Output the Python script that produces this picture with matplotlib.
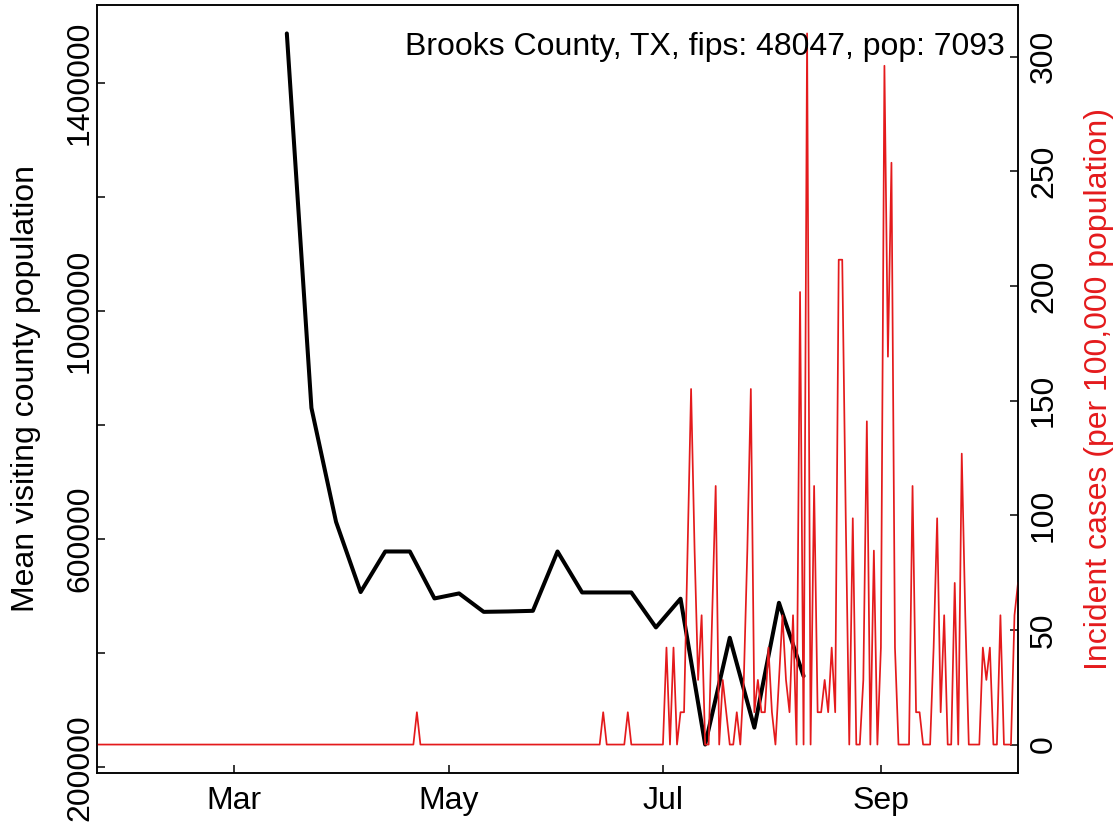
import matplotlib
matplotlib.use('Agg')
import matplotlib.pyplot as plt
import numpy as np

plt.rcParams['font.family'] = ['Liberation Sans', 'DejaVu Sans']

# ---------------- data ----------------
county_label = "Brooks County, TX, fips: 48047, pop: 7093"
population = 7093

black_dates = ['2020-03-16', '2020-03-23', '2020-03-30', '2020-04-06', '2020-04-13',
               '2020-04-20', '2020-04-27', '2020-05-04', '2020-05-11', '2020-05-18',
               '2020-05-25', '2020-06-01', '2020-06-08', '2020-06-15', '2020-06-22',
               '2020-06-29', '2020-07-06', '2020-07-13', '2020-07-20', '2020-07-27',
               '2020-08-03', '2020-08-10']
black_values = [1486400, 830000, 630400, 507300, 578400,
                578400, 496100, 504900, 472600, 473300,
                474400, 578400, 506600, 506600, 506600,
                445300, 495600, 240000, 427200, 269600,
                488500, 360000]

red_first_day = '2020-01-22'
red_last_day = '2020-10-10'
early_case_dates = ['2020-04-22', '2020-06-14', '2020-06-21']
early_case_counts = [1, 1, 1]
late_start = '2020-07-01'
cases_jul = [0, 3, 0, 3, 0, 1, 1, 6, 11, 6, 2, 4, 0, 0, 4, 8, 0, 2, 1, 0,
             0, 1, 0, 2, 6, 11, 1, 2, 1, 1, 3]
cases_aug = [1, 0, 2, 4, 2, 1, 4, 0, 14, 0, 22, 0, 8, 1, 1, 2, 1, 3, 1, 15,
             15, 7, 0, 7, 0, 0, 2, 10, 0, 6, 0]
cases_sep = [3, 21, 12, 18, 3, 0, 0, 0, 0, 8, 1, 1, 0, 0, 0, 3, 7, 1, 4, 0,
             0, 5, 0, 9, 4, 0, 0, 0, 0, 3]
cases_oct = [2, 3, 0, 0, 4, 0, 0, 0, 4, 5]

x_tick_dates = ['2020-03-01', '2020-05-01', '2020-07-01', '2020-09-01']
x_tick_labels = ['Mar', 'May', 'Jul', 'Sep']
left_ticks = [200000, 400000, 600000, 800000, 1000000, 1200000, 1400000]
left_tick_labels = ['200000', '', '600000', '', '1000000', '', '1400000']
right_ticks = [0, 50, 100, 150, 200, 250, 300]

# ---------------- build series ----------------
bd = np.array(black_dates, dtype='datetime64[D]')
bv = np.array(black_values, dtype=float)

rd = np.arange(np.datetime64(red_first_day), np.datetime64(red_last_day) + 1)
rc = np.zeros(len(rd))
for d, c in zip(early_case_dates, early_case_counts):
    rc[rd == np.datetime64(d)] = c
late = np.array(cases_jul + cases_aug + cases_sep + cases_oct, dtype=float)
i0 = int(np.where(rd == np.datetime64(late_start))[0][0])
rc[i0:i0 + len(late)] = late
rv = rc * 100000.0 / population

# ---------------- figure ----------------
W, H = 1119, 822
fig = plt.figure(figsize=(W / 100, H / 100), dpi=100)
L, R, T, B = 97, 1018, 5, 773
ax = fig.add_axes([L / W, 1 - B / H, (R - L) / W, (B - T) / H])

RED = '#E41A1C'
FS = 23.0

ax.plot(bd.astype('datetime64[ns]'), bv, color='black', lw=2.9,
        solid_joinstyle='round', solid_capstyle='round', zorder=3)
lo, hi = bv.min(), bv.max()
pad = 0.04 * (hi - lo)
ax.set_ylim(lo - pad, hi + pad)
ax.set_xlim(np.datetime64(red_first_day, 'ns'), np.datetime64(red_last_day, 'ns'))

ax.set_xticks(np.array(x_tick_dates, dtype='datetime64[ns]'))
ax.set_xticklabels(x_tick_labels, fontsize=FS)
ax.set_yticks(left_ticks)
ax.set_yticklabels(left_tick_labels, fontsize=FS, rotation=90, va='center')

ax2 = ax.twinx()
ax2.plot(rd.astype('datetime64[ns]'), rv, color=RED, lw=1.25, solid_joinstyle='round')
rlo, rhi = rv.min(), rv.max()
rpad = 0.04 * (rhi - rlo)
ax2.set_ylim(rlo - rpad, rhi + rpad)
ax2.set_xlim(np.datetime64(red_first_day, 'ns'), np.datetime64(red_last_day, 'ns'))
ax2.set_yticks(right_ticks)
ax2.set_yticklabels([str(t) for t in right_ticks], fontsize=FS, rotation=90, va='center')

for a in (ax, ax2):
    for s in a.spines.values():
        s.set_linewidth(1.1)
        s.set_color('black')
ax.tick_params(axis='x', direction='in', length=6.1, width=1.1, pad=9.0)
ax.tick_params(axis='y', direction='in', length=6.1, width=1.1, pad=1.5)
ax2.tick_params(axis='y', direction='in', length=6.1, width=1.1, pad=8.0)

fig.text(1005 / W, 1 - 55 / H, county_label, ha='right', va='baseline', fontsize=FS)
fig.text(26 / W, 1 - 389 / H, 'Mean visiting county population', rotation=90,
         ha='center', va='center', fontsize=FS)
fig.text(1099 / W, 1 - 389 / H, 'Incident cases (per 100,000 population)', rotation=90,
         ha='center', va='center', fontsize=FS, color=RED)

fig.savefig('out.png', dpi=100)
